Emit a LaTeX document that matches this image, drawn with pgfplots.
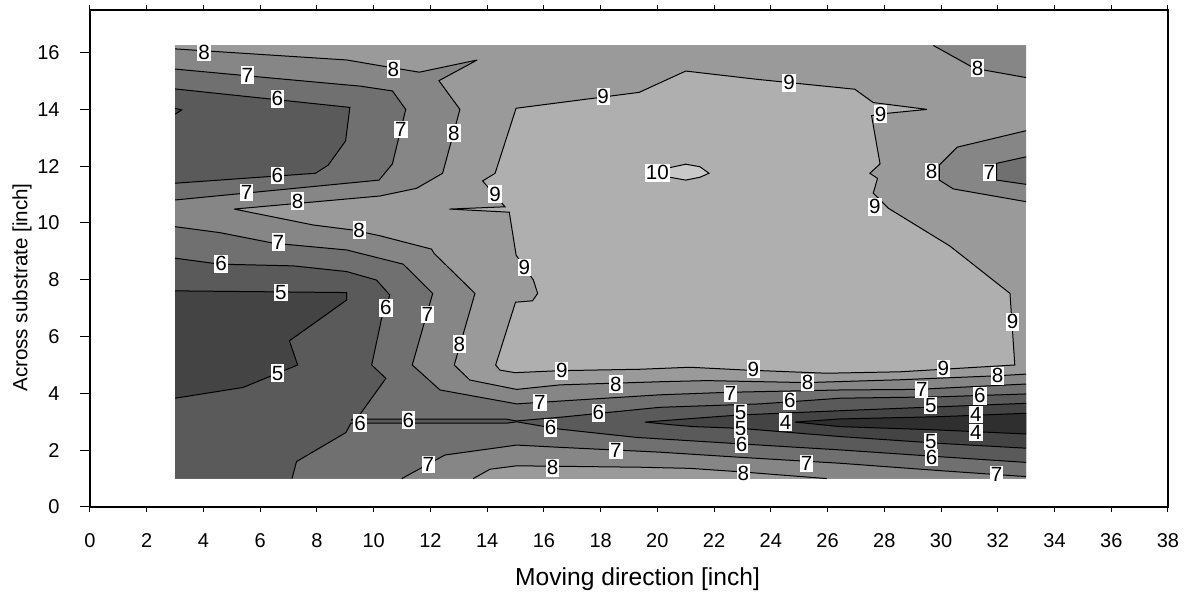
\documentclass[border=0pt]{standalone}
\usepackage{fontspec}
\setmainfont{Liberation Sans}
\usepackage{pgfplots}
\usepackage{pgfplotstable}
\pgfplotsset{compat=1.18}

% grey levels of the filled bands
\definecolor{lvA}{HTML}{2F2F2F} % below 4
\definecolor{lvB}{HTML}{444444} % 4--5
\definecolor{lvC}{HTML}{5A5A5A} % 5--6
\definecolor{lvD}{HTML}{707070} % 6--7
\definecolor{lvE}{HTML}{868686} % 7--8
\definecolor{lvF}{HTML}{9A9A9A} % 8--9
\definecolor{lvG}{HTML}{AFAFAF} % 9--10
\definecolor{lvH}{HTML}{C9C9C9} % above 10

\newcommand\tickfont{\fontsize{10}{12}\selectfont}
\newcommand\cfont{\fontsize{10.3}{12}\selectfont}
\newcommand\ylabfont{\fontsize{10.3}{12}\selectfont}
\newcommand\xlabfont{\fontsize{12.3}{14}\selectfont}

\pgfplotsset{
  band/.style={draw=none, mark=none},
  cline/.style={black, line width=0.5pt, mark=none, line join=miter, miter limit=4},
}

% contour labels: x, y, level
\pgfplotstableread{
x y t
6.73 7.55 5
6.61 4.71 5
22.93 3.32 5
22.93 2.75 5
29.64 3.57 5
29.64 2.30 5
24.52 2.99 4
31.23 3.26 4
31.23 2.62 4
6.60 14.37 6
6.60 11.67 6
4.62 8.56 6
9.52 2.95 6
10.43 7.02 6
17.92 3.32 6
11.22 3.06 6
16.24 2.79 6
24.67 3.74 6
22.97 2.21 6
31.37 3.92 6
29.67 1.74 6
5.55 15.21 7
5.52 11.07 7
6.64 9.33 7
10.96 13.30 7
11.89 6.78 7
15.86 3.67 7
11.93 1.50 7
18.54 1.98 7
22.58 4.00 7
25.26 1.54 7
29.32 4.14 7
31.96 1.15 7
31.70 11.77 7
4.02 16.01 8
7.32 10.77 8
9.49 9.75 8
10.69 15.42 8
12.83 13.16 8
13.02 5.73 8
18.54 4.33 8
16.31 1.38 8
25.30 4.38 8
23.03 1.19 8
31.99 4.62 8
29.67 11.81 8
31.29 15.45 8
18.09 14.45 9
14.28 11.01 9
24.64 14.94 9
27.87 13.83 9
27.67 10.57 9
15.31 8.43 9
16.63 4.80 9
23.38 4.85 9
30.08 4.88 9
32.52 6.52 9
20.00 11.77 10
}\contourlabels

\begin{document}
\begin{tikzpicture}
\useasboundingbox (-45pt,-42.5pt) rectangle (547.5pt,253.5pt);
\begin{axis}[
  at={(0,0)}, anchor=south west,
  scale only axis, width=539pt, height=248.5pt,
  xmin=0, xmax=38, ymin=0, ymax=17.5,
  xtick=\empty,
  ytick={0,2,...,16}, ytick pos=left,
  tick align=outside, major tick length=5pt,
  tick style={black, line width=0.5pt},
  axis line style={line width=0.6pt},
  /pgf/number format/assume math mode=true,
  yticklabel style={font=\tickfont, anchor=east, inner sep=0pt, xshift=-10pt},
  xlabel={Moving direction [inch]},
  ylabel={Across substrate [inch]},
  xlabel style={font=\xlabfont, at={(axis description cs:0.508,0)}, anchor=center, yshift=-36pt, inner sep=0pt},
  ylabel style={font=\ylabfont, at={(axis description cs:-0.0631,0.652)}, anchor=east, inner sep=0pt},
]
% band fills, from the 8--9 base down to the lowest band
\addplot[band, fill=lvF] coordinates {(3,1) (33,1) (33,16.25) (3,16.25)};
% below 8
\addplot[band, fill=lvE] coordinates {(3,16.13) (9.05,15.74) (10.22,15.54) (11.61,15.31) (13.65,15.74) (12.30,15.01) (13.04,14.0) (12.43,11.75) (11.51,11.22) (10.22,10.95) (5.08,10.49) (7.87,9.93) (9.28,9.75) (10.22,9.55) (12.04,9.08) (12.13,8.93) (13.57,7.52) (12.84,5.0) (13.39,4.47) (15.04,4.14) (16.57,4.30) (20.09,4.41) (21.74,4.45) (25.26,4.38) (28.55,4.48) (31.99,4.62) (33,4.68) (33,1) (25.97,1) (22.91,1.24) (21.15,1.36) (19.39,1.40) (15.04,1.45) (14.10,1.33) (13.51,1) (3,1)};
\addplot[band, fill=lvE] coordinates {(29.73,16.25) (31.08,15.5) (31.49,15.39) (33,15.12) (33,16.25)};
\addplot[band, fill=lvE] coordinates {(33,13.25) (30.57,12.67) (29.94,12.04) (29.94,11.51) (30.43,11.2) (33,10.75)};
% below 7
\addplot[band, fill=lvD] coordinates {(3,15.42) (6.54,15.09) (9.52,14.82) (10.66,14.65) (11.13,14.0) (10.66,12.08) (10.19,11.51) (3,10.81)};
\addplot[band, fill=lvD] coordinates {(3,9.87) (4.58,9.66) (6.46,9.29) (9.05,9.05) (11.04,8.55) (12.08,7.52) (11.36,5.0) (12.34,4.12) (15.04,3.63) (16.57,3.73) (20.09,3.95) (22.56,4.04) (26.44,4.12) (29.14,4.14) (33,4.33) (33,1.07) (29.96,1.28) (26.44,1.54) (22.91,1.75) (20.09,1.93) (16.57,2.10) (15.04,2.18) (12.51,1.83) (10.99,1) (3,1)};
\addplot[band, fill=lvD] coordinates {(33,12.33) (31.96,12.1) (31.96,11.51) (33,11.36)};
% below 6
\addplot[band, fill=lvC] coordinates {(3,14.72) (9.16,14.07) (9.01,12.89) (8.40,12.04) (7.95,11.75) (3,11.40)};
\addplot[band, fill=lvC] coordinates {(3,8.76) (4.58,8.55) (7.17,8.49) (9.05,8.29) (10.1,7.99) (10.57,7.46) (10.28,6.64) (9.93,5.0) (10.43,4.53) (9.46,3.18) (9.2,3.06) (9.52,3.09) (14.69,3.09) (15.04,3.03) (16.57,3.16) (20.09,3.51) (23.62,3.63) (26.44,3.83) (29.96,3.88) (33,3.98) (33,1.57) (29.96,1.77) (26.44,2.01) (23.62,2.18) (19.27,2.45) (16.57,2.74) (15.04,3.0) (14.69,2.95) (9.52,2.95) (9.2,2.95) (9.02,2.62) (7.28,1.60) (7.12,1) (3,1)};
% below 5
\addplot[band, fill=lvB] coordinates {(3,14.04) (3.23,13.98) (3,13.83)};
\addplot[band, fill=lvB] coordinates {(3,7.61) (9.05,7.55) (9.05,7.29) (7.03,5.85) (7.32,5.0) (5.40,4.21) (3,3.83)};
\addplot[band, fill=lvB] coordinates {(19.56,2.99) (21.27,3.12) (22.91,3.24) (26.44,3.39) (29.96,3.53) (33,3.65) (33,2.07) (29.96,2.24) (26.44,2.48) (22.91,2.77) (21.27,2.83) (20.56,2.89)};
% below 4
\addplot[band, fill=lvA] coordinates {(24.85,2.99) (26.44,3.10) (29.96,3.18) (33,3.30) (33,2.57) (29.96,2.71) (26.44,2.83)};
% above 9 and above 10
\addplot[band, fill=lvG] coordinates {(14.98,4.73) (14.45,4.82) (14.3,5.0) (15.0,7.21) (15.6,7.26) (15.78,7.52) (15.63,7.99) (15.02,8.87) (14.78,10.38) (12.67,10.49) (14.63,10.57) (13.84,11.48) (14.28,11.75) (15.02,14.04) (19.36,14.6) (21.0,15.35) (23.5,15.06) (26.96,14.71) (27.61,14.24) (29.51,14.0) (28.08,13.86) (27.55,13.78) (27.85,12.08) (27.49,11.75) (27.76,11.57) (27.61,11.05) (28.14,10.52) (30.31,9.19) (32.43,7.52) (32.6,5.0) (28.55,4.76) (25.97,4.71) (23.15,4.82) (21.15,4.92) (19.39,4.85) (16.57,4.80)};
\addplot[band, fill=lvH] coordinates {(20.2,11.78) (20.44,11.95) (21.0,12.07) (21.5,11.98) (21.82,11.75) (21.5,11.61) (21.0,11.51) (20.44,11.61)};

% contour lines, level 8
\addplot[cline] coordinates {(3,16.13) (9.05,15.74) (10.22,15.54) (11.61,15.31) (13.65,15.74) (12.30,15.01) (13.04,14.0) (12.43,11.75) (11.51,11.22) (10.22,10.95) (5.08,10.49) (7.87,9.93) (9.28,9.75) (10.22,9.55) (12.04,9.08) (12.13,8.93) (13.57,7.52) (12.84,5.0) (13.39,4.47) (15.04,4.14) (16.57,4.30) (20.09,4.41) (21.74,4.45) (25.26,4.38) (28.55,4.48) (31.99,4.62) (33,4.68)};
\addplot[cline] coordinates {(13.51,1) (14.10,1.33) (15.04,1.45) (19.39,1.40) (21.15,1.36) (22.91,1.24) (25.97,1)};
\addplot[cline] coordinates {(29.73,16.25) (31.08,15.5) (31.49,15.39) (33,15.12)};
\addplot[cline] coordinates {(33,13.25) (30.57,12.67) (29.94,12.04) (29.94,11.51) (30.43,11.2) (33,10.75)};
% level 7
\addplot[cline] coordinates {(3,15.42) (6.54,15.09) (9.52,14.82) (10.66,14.65) (11.13,14.0) (10.66,12.08) (10.19,11.51) (3,10.81)};
\addplot[cline] coordinates {(3,9.87) (4.58,9.66) (6.46,9.29) (9.05,9.05) (11.04,8.55) (12.08,7.52) (11.36,5.0) (12.34,4.12) (15.04,3.63) (16.57,3.73) (20.09,3.95) (22.56,4.04) (26.44,4.12) (29.14,4.14) (33,4.33)};
\addplot[cline] coordinates {(10.99,1) (12.51,1.83) (15.04,2.18) (16.57,2.10) (20.09,1.93) (22.91,1.75) (26.44,1.54) (29.96,1.28) (33,1.07)};
\addplot[cline] coordinates {(33,12.33) (31.96,12.1) (31.96,11.51) (33,11.36)};
% level 6
\addplot[cline] coordinates {(3,14.72) (9.16,14.07) (9.01,12.89) (8.40,12.04) (7.95,11.75) (3,11.40)};
\addplot[cline] coordinates {(3,8.76) (4.58,8.55) (7.17,8.49) (9.05,8.29) (10.1,7.99) (10.57,7.46) (10.28,6.64) (9.93,5.0) (10.43,4.53) (9.46,3.18) (9.2,3.06) (9.52,3.09) (14.69,3.09) (15.04,3.03) (16.57,3.16) (20.09,3.51) (23.62,3.63) (26.44,3.83) (29.96,3.88) (33,3.98)};
\addplot[cline] coordinates {(7.12,1) (7.28,1.60) (9.02,2.62) (9.2,2.95) (9.52,2.95) (14.69,2.95) (15.04,3.0) (16.57,2.74) (19.27,2.45) (23.62,2.18) (26.44,2.01) (29.96,1.77) (33,1.57)};
% level 5
\addplot[cline] coordinates {(3,14.04) (3.23,13.98) (3,13.83)};
\addplot[cline] coordinates {(3,7.61) (9.05,7.55) (9.05,7.29) (7.03,5.85) (7.32,5.0) (5.40,4.21) (3,3.83)};
\addplot[cline] coordinates {(33,3.65) (29.96,3.53) (26.44,3.39) (22.91,3.24) (21.27,3.12) (19.56,2.99) (20.56,2.89) (21.27,2.83) (22.91,2.77) (26.44,2.48) (29.96,2.24) (33,2.07)};
% level 4
\addplot[cline] coordinates {(33,3.30) (29.96,3.18) (26.44,3.10) (24.85,2.99) (26.44,2.83) (29.96,2.71) (33,2.57)};
% level 9
\addplot[cline] coordinates {(14.98,4.73) (14.45,4.82) (14.3,5.0) (15.0,7.21) (15.6,7.26) (15.78,7.52) (15.63,7.99) (15.02,8.87) (14.78,10.38) (12.67,10.49) (14.63,10.57) (13.84,11.48) (14.28,11.75) (15.02,14.04) (19.36,14.6) (21.0,15.35) (23.5,15.06) (26.96,14.71) (27.61,14.24) (29.51,14.0) (28.08,13.86) (27.55,13.78) (27.85,12.08) (27.49,11.75) (27.76,11.57) (27.61,11.05) (28.14,10.52) (30.31,9.19) (32.43,7.52) (32.6,5.0) (28.55,4.76) (25.97,4.71) (23.15,4.82) (21.15,4.92) (19.39,4.85) (16.57,4.80) (14.98,4.73)};
% level 10
\addplot[cline] coordinates {(20.2,11.78) (20.44,11.95) (21.0,12.07) (21.5,11.98) (21.82,11.75) (21.5,11.61) (21.0,11.51) (20.44,11.61) (20.2,11.78)};

% level labels
\addplot[draw=none, mark=none, nodes near coords, point meta=explicit symbolic,
  nodes near coords align=center,
  every node near coord/.append style={fill=white, text=black, font=\cfont,
    inner xsep=0.45pt, inner ysep=0.8pt, anchor=center}]
  table[x=x, y=y, meta=t] {\contourlabels};
\end{axis}

% x ticks (shorter than the y ticks) with their labels
\begin{axis}[
  at={(0,0)}, anchor=south west,
  scale only axis, width=539pt, height=248.5pt,
  xmin=0, xmax=38, ymin=0, ymax=17.5,
  ytick=\empty,
  xtick={0,2,...,38}, xtick pos=both, xticklabel pos=lower,
  tick align=outside, major tick length=2.5pt,
  tick style={black, line width=0.5pt},
  axis line style={line width=0.6pt},
  /pgf/number format/assume math mode=true,
  xticklabel style={font=\tickfont, anchor=north, inner sep=0pt, yshift=-10.5pt},
]
\end{axis}
\end{tikzpicture}
\end{document}
